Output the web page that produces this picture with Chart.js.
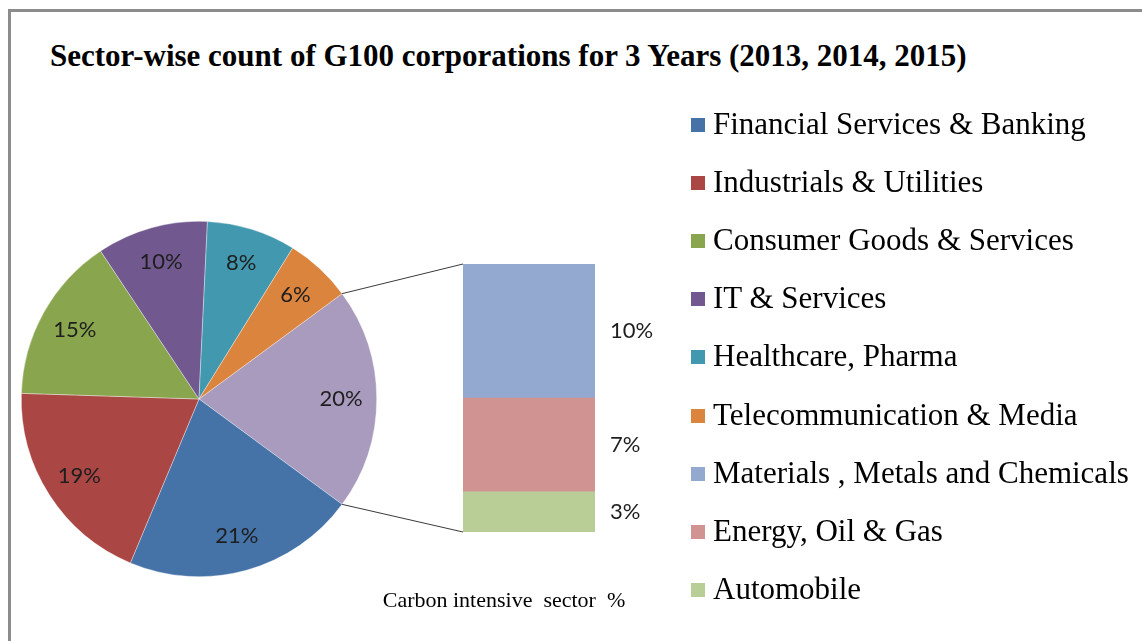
<!DOCTYPE html>
<html>
<head>
<meta charset="utf-8">
<title>G100 sector-wise count</title>
<script src="https://cdn.jsdelivr.net/npm/chart.js@4/dist/chart.umd.min.js"></script>
<style>
    body {
        margin: 0;
        width: 1142px;
        height: 641px;
        overflow: hidden;
        background: #fff;
        position: relative;
    }
    #frame {
        position: absolute;
        left: 8px;
        top: 9px;
        right: -10px;
        bottom: -10px;
        border-left: 3px solid #8c8c8c;
        border-top: 3px solid #8c8c8c;
    }
    #title {
        position: absolute;
        left: 50px;
        top: 40px;
        font: bold 31px/31px 'Liberation Serif', 'Times New Roman', serif;
        color: #000;
        white-space: nowrap;
    }
    canvas {
        position: absolute;
        left: 0;
        top: 0;
    }
    .legend-item {
        position: absolute;
        left: 691px;
        white-space: nowrap;
        font: 31px/31px 'Liberation Serif', 'Times New Roman', serif;
        color: #000;
    }
    .legend-item span.swatch {
        position: absolute;
        left: 0;
        width: 14px;
        height: 14px;
    }
    .legend-item span.text {
        position: absolute;
        left: 22px;
        top: 0;
    }
</style>
</head>
<body>
<div id="frame"></div>
<div id="title">Sector-wise count of G100 corporations for 3 Years (2013, 2014, 2015)</div>
<canvas id="pieChart" width="1142" height="641"></canvas>
<canvas id="barChart" width="1142" height="641"></canvas>
<div id="legend"></div>

<script>
// Main pie: sectors and their share (%)
const pieSectors = ['Financial Services & Banking', 'Industrials & Utilities', 'Consumer Goods & Services',
    'IT & Services', 'Healthcare, Pharma', 'Telecommunication & Media'];
const pieShares = [21, 19, 15, 10, 8, 6];
const pieColors = ['#4572A7', '#AA4643', '#89A54E', '#71588F', '#4198AF', '#DB843D'];

// Carbon intensive split, shown as the stacked bar (top to bottom)
const carbonSectors = ['Materials , Metals and Chemicals', 'Energy, Oil & Gas', 'Automobile'];
const carbonShares = [10, 7, 3];
const carbonColors = ['#93A9CF', '#D19392', '#B9CD96'];
const carbonLabel = 'Carbon intensive  sector  %';
const carbonSliceColor = '#A99BBD';

const labelFont = "22px Lato, 'Noto Sans', sans-serif";
const labelColor = '#1e1e1e';

document.addEventListener('DOMContentLoaded', function() {
    const carbonTotal = carbonShares.reduce((sum, v) => sum + v, 0);
    const pieTotal = pieShares.reduce((sum, v) => sum + v, 0) + carbonTotal;

    // the carbon slice sits first so it can be centred on 3 o'clock
    const sliceValues = [carbonTotal].concat(pieShares);
    const sliceColors = [carbonSliceColor].concat(pieColors);
    const carbonSweep = carbonTotal / pieTotal * 360;

    // percent labels inside the pie slices
    const pieLabels = {
        id: 'pieLabels',
        afterDatasetsDraw(chart) {
            const ctx = chart.ctx;
            const meta = chart.getDatasetMeta(0);
            ctx.save();
            ctx.font = labelFont;
            ctx.fillStyle = labelColor;
            ctx.textAlign = 'center';
            ctx.textBaseline = 'middle';
            meta.data.forEach((arc, i) => {
                const mid = (arc.startAngle + arc.endAngle) / 2;
                const r = arc.outerRadius * 0.8;
                ctx.fillText(sliceValues[i] + '%', arc.x + Math.cos(mid) * r, arc.y + Math.sin(mid) * r);
            });
            ctx.restore();
        }
    };

    const pieChart = new Chart(document.getElementById('pieChart'), {
        type: 'pie',
        data: {
            labels: ['Carbon intensive sector'].concat(pieSectors),
            datasets: [{
                data: sliceValues,
                backgroundColor: sliceColors,
                borderColor: 'rgba(255,255,255,0.6)',
                borderWidth: 0.6
            }]
        },
        options: {
            responsive: false,
            animation: false,
            rotation: 90 - carbonSweep / 2,
            layout: { padding: { left: 21, top: 221, right: 765, bottom: 64 } },
            plugins: {
                legend: { display: false },
                tooltip: { enabled: false }
            }
        },
        plugins: [pieLabels]
    });

    // value labels right of the bar + the two lines joining it to the pie
    const barExtras = {
        id: 'barExtras',
        afterDatasetsDraw(chart) {
            const ctx = chart.ctx;
            ctx.save();
            ctx.font = labelFont;
            ctx.fillStyle = labelColor;
            ctx.textAlign = 'left';
            ctx.textBaseline = 'middle';
            chart.data.datasets.forEach((ds, i) => {
                const bar = chart.getDatasetMeta(i).data[0];
                ctx.fillText(ds.data[0] + '%', bar.x + bar.width / 2 + 15, (bar.y + bar.base) / 2);
            });

            const arc = pieChart.getDatasetMeta(0).data[0];
            const topBar = chart.getDatasetMeta(chart.data.datasets.length - 1).data[0];
            const bottomBar = chart.getDatasetMeta(0).data[0];
            const left = topBar.x - topBar.width / 2;
            ctx.strokeStyle = '#3a3a3a';
            ctx.lineWidth = 1;
            ctx.beginPath();
            ctx.moveTo(arc.x + Math.cos(arc.startAngle) * arc.outerRadius, arc.y + Math.sin(arc.startAngle) * arc.outerRadius);
            ctx.lineTo(left, topBar.y);
            ctx.moveTo(arc.x + Math.cos(arc.endAngle) * arc.outerRadius, arc.y + Math.sin(arc.endAngle) * arc.outerRadius);
            ctx.lineTo(left, bottomBar.base);
            ctx.stroke();
            ctx.restore();
        }
    };

    // stacking starts from the bottom segment
    const stackOrder = carbonSectors.map((name, i) => i).reverse();

    new Chart(document.getElementById('barChart'), {
        type: 'bar',
        data: {
            labels: [carbonLabel],
            datasets: stackOrder.map(i => ({
                label: carbonSectors[i],
                data: [carbonShares[i]],
                backgroundColor: carbonColors[i],
                borderWidth: 0,
                barPercentage: 1,
                categoryPercentage: 1
            }))
        },
        options: {
            responsive: false,
            animation: false,
            layout: { padding: { left: 463, top: 264, right: 547, bottom: 27 } },
            scales: {
                x: {
                    stacked: true,
                    grid: { display: false, drawTicks: false },
                    border: { display: false },
                    ticks: {
                        color: '#000',
                        font: { family: "'Liberation Serif', 'Times New Roman', serif", size: 22 },
                        padding: 56,
                        labelOffset: -25,
                        maxRotation: 0,
                        autoSkip: false
                    },
                    // keep the axis band to label + padding
                    afterFit(scale) {
                        scale.height = 82;
                    }
                },
                y: {
                    stacked: true,
                    display: false,
                    min: 0,
                    max: carbonTotal
                }
            },
            plugins: {
                legend: { display: false },
                tooltip: { enabled: false }
            }
        },
        plugins: [barExtras]
    });

    // legend for every sector, pie first then the carbon split
    const legend = document.getElementById('legend');
    const names = pieSectors.concat(carbonSectors);
    const colors = pieColors.concat(carbonColors);
    names.forEach((name, i) => {
        const item = document.createElement('div');
        item.className = 'legend-item';
        item.style.top = (108 + i * 58.1) + 'px';
        item.innerHTML = '<span class="swatch" style="top:10px;background:' + colors[i] + '"></span>' +
            '<span class="text"></span>';
        item.querySelector('.text').textContent = name;
        legend.appendChild(item);
    });
});
</script>
</body>
</html>
